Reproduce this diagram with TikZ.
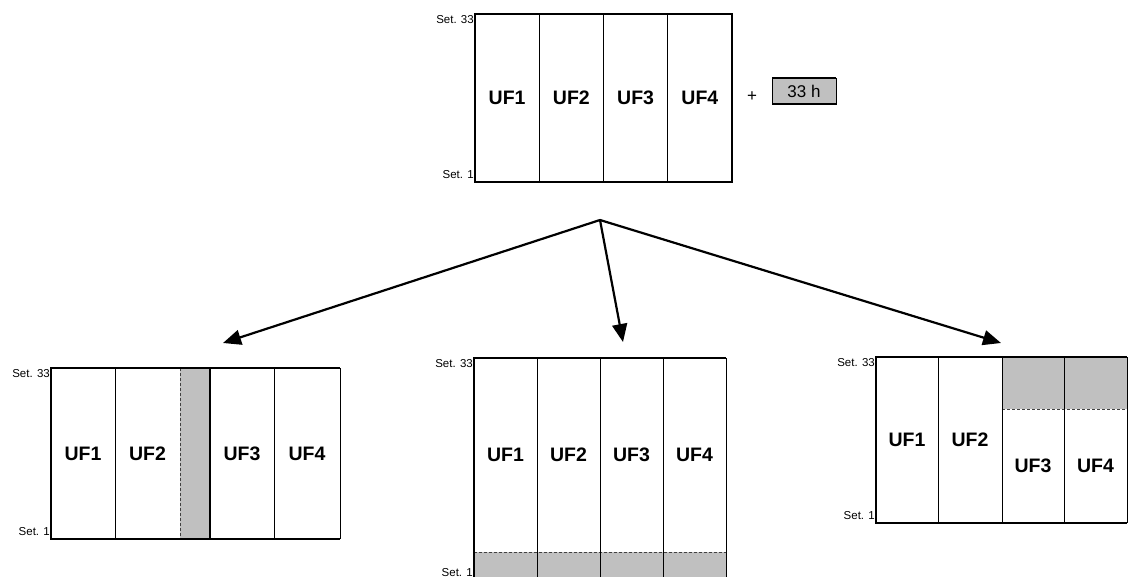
\documentclass[tikz,border=0pt]{standalone}
\usepackage{fontspec}
\setmainfont{Liberation Sans}
\usepackage{xcolor}
\usetikzlibrary{arrows.meta, positioning}
\definecolor{boxgray}{HTML}{C0C0C0}
\newcommand{\uflabel}{\fontsize{19.5}{22}\selectfont\bfseries}
\newcommand{\setlabelfont}{\fontsize{11.5}{13}\selectfont}

\begin{document}
\begin{tikzpicture}[x=1pt, y=-1pt]
\tikzstyle{cell} = [rectangle, inner sep=0pt, outer sep=0pt, font=\uflabel]
\tikzstyle{shade} = [cell, fill=boxgray]
\tikzstyle{setlbl} = [inner sep=1pt, font=\setlabelfont]
\tikzstyle{frame} = [line width=1.6pt]
\tikzstyle{sep} = [line width=0.9pt]
\tikzstyle{cut} = [line width=0.7pt, densely dashed, black!75]
\tikzstyle{arrow} = [line width=2.2pt, -{Triangle[length=18pt, width=15pt]}]
\tikzstyle{topcell} = [cell, minimum width=64.25pt, minimum height=168pt]
\tikzstyle{lcell} = [cell, minimum height=171pt]
\tikzstyle{mcell} = [cell, minimum width=63pt, minimum height=194pt]
\tikzstyle{rcell} = [cell, minimum height=166pt]

\useasboundingbox (0,0) rectangle (1130,577);

% top block
\node (t1) [topcell] at (507.1,98) {UF1};
\node (t2) [topcell, right=0pt of t1] {UF2};
\node (t3) [topcell, right=0pt of t2] {UF3};
\node (t4) [topcell, right=0pt of t3] {UF4};
\foreach \c in {t1,t2,t3} \draw [sep] (\c.north east) -- (\c.south east);
\draw [frame] (t1.north west) rectangle (t4.south east);
\node (t33) [setlbl, anchor=north east] at (t1.north west) {Set. 33};
\node (t01) [setlbl, anchor=south east] at ([yshift=2pt]t1.south west) {Set. 1};

\node (plus) [font=\fontsize{17}{19}\selectfont] at (752,97) {+};
\node (hrs) [rectangle, fill=boxgray, draw, line width=0.7pt, inner sep=0pt, outer sep=0pt, minimum width=64pt, minimum height=26pt, font=\fontsize{17}{20}\selectfont] at (804,91) {33 h};
\draw [frame] (hrs.north west) -- (hrs.north east) (hrs.south west) -- (hrs.south east);

% split
\coordinate (split) at (600,220);
\coordinate (toleft) at (223,343);
\coordinate (tomid) at (623,342);
\coordinate (toright) at (1001,343);
\draw [arrow] (split) -- (toleft);
\draw [arrow] (split) -- (tomid);
\draw [arrow] (split) -- (toright);

% left block
\node (l1) [lcell, minimum width=64pt] at (83,453.5) {UF1};
\node (l2) [lcell, minimum width=65pt, right=0pt of l1] {UF2};
\node (lg) [lcell, shade, minimum width=30pt, right=0pt of l2] {};
\node (l3) [lcell, minimum width=64pt, right=0pt of lg] {UF3};
\node (l4) [lcell, minimum width=66pt, right=0pt of l3] {UF4};
\draw [cut] (l2.north east) -- (l2.south east);
\draw [sep] (l1.north east) -- (l1.south east);
\draw [sep] (l3.north east) -- (l3.south east);
\draw [sep] (l4.north east) -- (l4.south east);
\draw [line width=1.3pt] (lg.north east) -- (lg.south east);
\draw [frame] (l4.north east) -- (l1.north west) -- (l1.south west) -- (l4.south east);
\node (l33) [setlbl, anchor=north east] at (l1.north west) {Set. 33};
\node (l01) [setlbl, anchor=south east] at ([yshift=2pt]l1.south west) {Set. 1};

% middle block
\node (m1) [mcell] at (505.5,455) {UF1};
\node (m2) [mcell, right=0pt of m1] {UF2};
\node (m3) [mcell, right=0pt of m2] {UF3};
\node (m4) [mcell, right=0pt of m3] {UF4};
\foreach \i in {1,...,4}
  \node (mg\i) [shade, minimum width=63pt, minimum height=28pt, below=0pt of m\i] {};
\draw [cut] (m1.south west) -- (m4.south east);
\foreach \i in {1,2,3} \draw [sep] (m\i.north east) -- (mg\i.south east);
\draw [sep] (m4.north east) -- (mg4.south east);
\draw [frame] (m4.north east) -- (m1.north west) -- (mg1.south west) -- (mg4.south east);
\node (m33) [setlbl, anchor=north east] at (m1.north west) {Set. 33};
\node (m01) [setlbl, anchor=south east] at ([yshift=2pt]mg1.south west) {Set. 1};

% right block
\node (r1) [rcell, minimum width=62pt] at (907,440) {UF1};
\node (r2) [rcell, minimum width=64pt, right=0pt of r1] {UF2};
\node (r3g) [shade, minimum width=62pt, minimum height=52pt, anchor=north west] at (r2.north east) {};
\node (r3) [cell, minimum width=62pt, minimum height=114pt, below=0pt of r3g] {UF3};
\node (r4g) [shade, minimum width=63pt, minimum height=52pt, right=0pt of r3g] {};
\node (r4) [cell, minimum width=63pt, minimum height=114pt, below=0pt of r4g] {UF4};
\draw [cut] (r3g.south west) -- (r4g.south east);
\draw [sep] (r1.north east) -- (r1.south east);
\draw [sep] (r2.north east) -- (r2.south east);
\draw [sep] (r3g.north east) -- (r3.south east);
\draw [sep] (r4g.north east) -- (r4.south east);
\draw [frame] (r4g.north east) -- (r1.north west) -- (r1.south west) -- (r4.south east);
\node (r33) [setlbl, anchor=north east] at (r1.north west) {Set. 33};
\node (r01) [setlbl, anchor=south east] at ([yshift=2pt]r1.south west) {Set. 1};

\end{tikzpicture}
\end{document}
